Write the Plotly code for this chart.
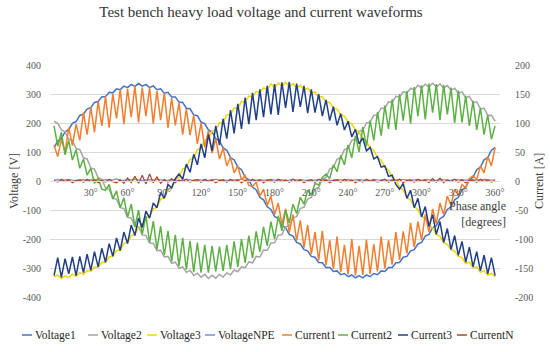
import plotly.graph_objects as go

# ---------------- data ----------------
angle = list(range(0, 361, 3))  # phase angle samples [degrees]

voltage1 = [115, 138, 147, 169, 178, 199, 205, 226, 230, 248,
            253, 271, 274, 290, 291, 306, 304, 318, 315, 327,
            322, 333, 326, 336, 327, 333, 322, 328, 315, 318,
            303, 306, 290, 290, 272, 271, 251, 249, 228, 225,
            203, 198, 176, 169, 146, 138, 114, 106, 81, 73,
            48, 39, 13, 4, -21, -31, -56, -65, -89, -98,
            -122, -130, -154, -161, -184, -190, -212, -217, -237, -241,
            -260, -263, -281, -282, -298, -298, -312, -310, -323, -319,
            -330, -324, -334, -326, -334, -324, -330, -319, -323, -310,
            -312, -298, -298, -282, -281, -263, -260, -241, -237, -217,
            -212, -190, -184, -161, -154, -130, -122, -98, -89, -65,
            -56, -31, -21, 4, 13, 39, 48, 73, 81, 106,
            115]

voltage2 = [206, 199, 176, 170, 144, 140, 112, 108, 80, 76,
            45, 41, 11, 6, -24, -29, -59, -63, -92, -95,
            -125, -128, -157, -158, -186, -188, -214, -215, -240, -239,
            -262, -260, -284, -280, -301, -296, -315, -308, -326, -318,
            -332, -322, -336, -325, -335, -322, -331, -317, -324, -307,
            -313, -296, -299, -279, -282, -260, -262, -238, -239, -214,
            -213, -187, -185, -158, -155, -127, -123, -95, -90, -62,
            -57, -28, -22, 6, 12, 41, 47, 75, 80, 108,
            113, 140, 145, 171, 175, 200, 203, 227, 228, 251,
            251, 273, 272, 292, 289, 308, 303, 320, 314, 330,
            321, 334, 325, 337, 324, 335, 320, 329, 313, 320,
            302, 308, 287, 292, 270, 273, 249, 251, 226, 227,
            206]

voltage3 = [-330, -324, -336, -327, -334, -321, -329, -316, -322, -309,
            -311, -297, -298, -280, -281, -262, -259, -240, -238, -215,
            -212, -188, -184, -160, -154, -128, -122, -96, -90, -63,
            -57, -29, -21, 6, 13, 41, 48, 75, 80, 108,
            113, 141, 145, 172, 176, 200, 203, 228, 229, 252,
            251, 274, 273, 293, 290, 309, 304, 321, 315, 335,
            322, 338, 327, 340, 326, 336, 321, 330, 314, 320,
            303, 307, 289, 291, 272, 271, 252, 248, 229, 224,
            204, 197, 176, 168, 146, 137, 114, 105, 81, 72,
            48, 38, 13, 3, -21, -32, -56, -66, -89, -99,
            -122, -131, -154, -162, -184, -191, -212, -218, -237, -242,
            -260, -264, -285, -280, -300, -296, -315, -309, -325, -318,
            -330]

voltage_npe = [3, 5, 2, 4, 6, 3, 1, 4, 5, 2,
               3, 6, 4, 2, 5, 3, 4, 7, 3, 2,
               5, 4, 6, 3, 2, 4, 5, 3, 6, 4,
               2, 3, 5, 4, 1, 3, 6, 4, 2, 5,
               3, 4, 2, 5, 6, 3, 4, 2, 3, 5,
               4, 6, 3, 2, 4, 3, 5, 2, 4, 6,
               3, 5, 4, 2, 3, 6, 4, 5, 3, 2,
               4, 3, 5, 6, 4, 2, 3, 5, 4, 3,
               6, 2, 4, 5, 3, 4, 2, 6, 4, 3,
               5, 2, 4, 3, 6, 5, 3, 2, 4, 5,
               3, 6, 4, 2, 3, 5, 4, 3, 2, 6,
               4, 5, 3, 4, 2, 5, 3, 6, 4, 3,
               4]

current1 = [62, 42, 72, 50, 92, 61, 98, 70, 118, 80,
            127, 84, 137, 95, 146, 92, 150, 108, 158, 98,
            159, 110, 164, 101, 161, 112, 161, 99, 155, 105,
            152, 92, 143, 96, 135, 80, 124, 79, 113, 64,
            100, 58, 87, 48, 73, 38, 57, 26, 41, 14,
            26, 2, 9, -8, -9, -2, -26, -14, -42, -26,
            -58, -38, -75, -48, -89, -58, -103, -68, -115, -76,
            -126, -88, -137, -86, -145, -102, -152, -96, -157, -110,
            -161, -100, -163, -112, -162, -101, -160, -109, -156, -96,
            -151, -102, -144, -88, -136, -87, -125, -72, -114, -70,
            -102, -58, -88, -48, -74, -38, -58, -26, -42, -14,
            -25, -6, -12, 4, 9, 2, 26, 14, 42, 26,
            58]

current2 = [95, 60, 84, 45, 70, 36, 54, 22, 38, 10,
            22, -4, 5, -14, -16, -6, -31, -17, -46, -29,
            -62, -40, -79, -50, -92, -60, -106, -69, -118, -78,
            -128, -86, -139, -93, -147, -98, -153, -103, -157, -106,
            -158, -110, -158, -112, -156, -113, -155, -110, -152, -104,
            -148, -100, -141, -94, -133, -87, -122, -79, -112, -70,
            -100, -60, -86, -50, -72, -40, -56, -28, -40, -16,
            -24, -4, -7, 6, 12, 4, 28, 16, 44, 28,
            62, 40, 78, 50, 93, 60, 104, 70, 119, 78,
            130, 90, 141, 88, 150, 104, 155, 99, 162, 112,
            165, 106, 168, 118, 167, 105, 166, 115, 161, 100,
            156, 101, 147, 95, 138, 88, 126, 80, 114, 72,
            95]

current3 = [-163, -132, -166, -134, -160, -131, -163, -130, -158, -126,
            -154, -122, -148, -116, -140, -108, -130, -98, -120, -88,
            -108, -76, -94, -64, -80, -52, -64, -38, -46, -20,
            -30, -6, -12, 4, 12, 3, 29, 15, 46, 28,
            64, 40, 80, 52, 95, 62, 107, 73, 122, 82,
            133, 90, 144, 98, 152, 105, 158, 110, 164, 115,
            167, 114, 170, 126, 171, 119, 168, 128, 164, 117,
            158, 118, 150, 112, 140, 104, 128, 96, 116, 88,
            103, 76, 89, 64, 74, 52, 58, 38, 42, 24,
            26, 8, 10, -6, -14, -4, -30, -16, -46, -30,
            -62, -44, -78, -58, -92, -70, -106, -82, -118, -94,
            -128, -104, -140, -114, -148, -122, -155, -128, -160, -132,
            -163]

current_n = [1, -2, 3, -1, 2, -3, 1, 2, -2, 3,
             -1, 2, -3, 1, -2, 3, -1, -3, 2, -4,
             5, -3, 8, -4, 10, -5, 12, -3, 7, -4,
             3, -2, 4, -3, 2, -1, 3, -2, 1, 2,
             -2, 3, -1, 2, -3, 1, 2, -2, 3, -1,
             2, -3, 1, -2, 3, -1, 2, -3, 1, 2,
             -2, 3, -1, 2, -2, 3, -1, 2, -3, 1,
             2, -2, 3, -1, 2, -3, 1, 2, -2, 3,
             -1, 2, -3, 1, -2, 3, -1, 2, -2, 1,
             3, -2, 2, -1, 3, -3, 1, 2, -2, 3,
             -1, 2, -3, 4, -2, 5, -3, 2, -1, 3,
             -2, 2, -3, 1, 2, -2, 3, -1, 2, -2,
             1]

x_tick_vals = [30, 60, 90, 120, 150, 180, 210, 240, 270, 300, 330, 360]
v_ticks = [-400, -300, -200, -100, 0, 100, 200, 300, 400]
i_ticks = [-200, -150, -100, -50, 0, 50, 100, 150, 200]

series = [
    ("Voltage1", voltage1, "y", "#4472C4", 1.5),
    ("Voltage2", voltage2, "y", "#A5A5A5", 1.5),
    ("Voltage3", voltage3, "y", "#F2D600", 1.5),
    ("VoltageNPE", voltage_npe, "y", "#7A8CE0", 1.2),
    ("Current1", current1, "y2", "#F27E2E", 1.5),
    ("Current2", current2, "y2", "#5DB044", 1.5),
    ("Current3", current3, "y2", "#213F86", 1.5),
    ("CurrentN", current_n, "y2", "#A8482A", 1.2),
]
for name, vals, _, _, _ in series:
    assert len(vals) == len(angle), (name, len(vals))

# ---------------- layout geometry ----------------
W, H = 550, 352
ML, MR, MT, MB = 50, 50, 65, 55
PW, PH = W - ML - MR, H - MT - MB
FONT = "Liberation Serif"
TXT = "#595959"


def pxx(x):
    return (x - ML) / PW


def pyy(y):
    return (H - MB - y) / PH


fig = go.Figure()
for name, vals, ax, col, w in series:
    fig.add_trace(go.Scatter(x=angle, y=vals, yaxis=ax, name=name, mode="lines",
                             line=dict(color=col, width=w), showlegend=False))

fig.update_layout(
    width=W, height=H,
    margin=dict(l=ML, r=MR, t=MT, b=MB),
    paper_bgcolor="white", plot_bgcolor="white",
    font=dict(family=FONT, color=TXT, size=10),
    title=dict(text="Test bench heavy load voltage and current waveforms",
               x=261 / W, xanchor="center", y=1 - 12 / H, yanchor="middle",
               font=dict(family=FONT, size=15, color="#333333")),
    xaxis=dict(range=[-3.3, 364], anchor="free", position=0.5,
               tickvals=x_tick_vals, ticktext=[f"{v}°" for v in x_tick_vals],
               showgrid=False, zeroline=False, showline=True, linecolor="#D9D9D9",
               linewidth=1, ticks="outside", ticklen=2, tickcolor="rgba(0,0,0,0)",
               tickfont=dict(family=FONT, size=10, color=TXT)),
    yaxis=dict(range=[-400, 400], tickvals=v_ticks, ticktext=[str(v) for v in v_ticks],
               showgrid=True, gridcolor="#D9D9D9", gridwidth=1, zeroline=False,
               showline=False, ticks="outside", ticklen=6, tickcolor="rgba(0,0,0,0)",
               tickfont=dict(family=FONT, size=10, color=TXT)),
    yaxis2=dict(range=[-200, 200], overlaying="y", side="right",
                tickvals=i_ticks, ticktext=[str(v) for v in i_ticks],
                showgrid=False, zeroline=False, showline=False,
                ticks="outside", ticklen=12, tickcolor="rgba(0,0,0,0)",
                tickfont=dict(family=FONT, size=10, color=TXT)),
    showlegend=False,
)

ann = []
ann.append(dict(text="Voltage [V]", xref="paper", yref="paper", x=pxx(14), y=0.5,
                textangle=-90, showarrow=False, xanchor="center", yanchor="middle",
                font=dict(family=FONT, size=12, color="#404040")))
ann.append(dict(text="Current [A]", xref="paper", yref="paper", x=pxx(539), y=0.5,
                textangle=-90, showarrow=False, xanchor="center", yanchor="middle",
                font=dict(family=FONT, size=12, color="#404040")))
ann.append(dict(text="Phase angle<br>[degrees]", xref="paper", yref="paper",
                x=pxx(508), y=pyy(214), showarrow=False, xanchor="right", yanchor="middle",
                align="right", font=dict(family=FONT, size=12, color="#404040")))

legend_x = [22, 88, 147, 205, 282, 338, 398, 457]
ly = pyy(335)
shapes = []
for (name, _, _, col, _), lx in zip(series, legend_x):
    shapes.append(dict(type="line", xref="paper", yref="paper", x0=pxx(lx), x1=pxx(lx + 10),
                       y0=ly, y1=ly, line=dict(color=col, width=1.5)))
    ann.append(dict(text=name, xref="paper", yref="paper", x=pxx(lx + 11), y=ly,
                    showarrow=False, xanchor="left", yanchor="middle",
                    font=dict(family=FONT, size=11.5, color="#262626")))

fig.update_layout(annotations=ann, shapes=shapes)
fig.write_html("out.html", config={"displayModeBar": False},
               post_script="document.body.style.margin='0';")
